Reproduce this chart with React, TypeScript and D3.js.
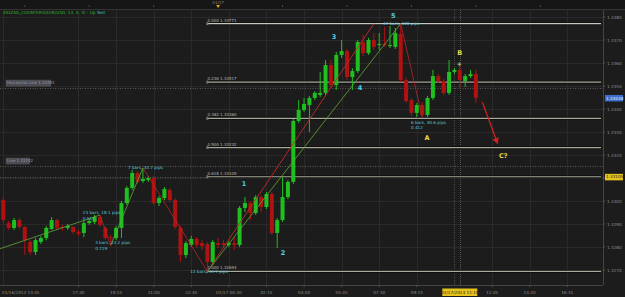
import React from 'react';
import * as d3 from 'd3';

const W = 625;
const H = 297;

// EUR/USD 15-minute bars, 01/16/2013 14:00 onwards
const openP = [1.33004,1.32904,1.32883,1.32917,1.32887,1.32822,1.32778,1.32822,1.32839,1.32878,1.32917,1.32887,1.32883,1.32887,1.32865,1.32861,1.32904,1.32909,1.32930,1.32883,1.32843,1.32839,1.32883,1.32991,1.33057,1.33122,1.33087,1.33091,1.33100,1.32991,1.33013,1.33048,1.33004,1.32883,1.32765,1.32809,1.32835,1.32817,1.32813,1.32735,1.32817,1.32817,1.32809,1.32817,1.32809,1.32970,1.32991,1.32948,1.33017,1.32974,1.33030,1.32861,1.32917,1.33017,1.33083,1.33348,1.33396,1.33417,1.33448,1.33461,1.33470,1.33591,1.33504,1.33635,1.33652,1.33539,1.33565,1.33691,1.33643,1.33700,1.33678,1.33683,1.33674,1.33670,1.33726,1.33526,1.33439,1.33383,1.33417,1.33374,1.33448,1.33543,1.33522,1.33470,1.33561,1.33570,1.33522,1.33543,1.33552];
const highP = [1.33017,1.32913,1.32926,1.32926,1.32891,1.32830,1.32839,1.32848,1.32891,1.32930,1.32922,1.32896,1.32900,1.32891,1.32874,1.32913,1.32922,1.32939,1.32939,1.32891,1.32852,1.32891,1.33000,1.33065,1.33135,1.33130,1.33144,1.33109,1.33109,1.33022,1.33061,1.33057,1.33013,1.32891,1.32826,1.32848,1.32843,1.32830,1.32822,1.32830,1.32839,1.32830,1.32826,1.32843,1.32978,1.33017,1.33000,1.33026,1.33026,1.33039,1.33039,1.32926,1.33104,1.33091,1.33357,1.33439,1.33448,1.33457,1.33478,1.33561,1.33613,1.33613,1.33648,1.33700,1.33661,1.33578,1.33700,1.33722,1.33709,1.33730,1.33730,1.33757,1.33761,1.33752,1.33771,1.33535,1.33448,1.33426,1.33430,1.33457,1.33570,1.33552,1.33530,1.33613,1.33578,1.33591,1.33552,1.33570,1.33570];
const lowP = [1.32904,1.32874,1.32874,1.32878,1.32765,1.32765,1.32765,1.32813,1.32830,1.32874,1.32874,1.32870,1.32874,1.32857,1.32848,1.32843,1.32896,1.32900,1.32887,1.32830,1.32807,1.32830,1.32839,1.32983,1.33048,1.33074,1.33078,1.33083,1.32983,1.32978,1.33004,1.32996,1.32878,1.32735,1.32752,1.32800,1.32800,1.32787,1.32694,1.32722,1.32796,1.32796,1.32800,1.32787,1.32800,1.32952,1.32917,1.32939,1.32952,1.32965,1.32852,1.32796,1.32909,1.33009,1.33074,1.33339,1.33387,1.33300,1.33439,1.33452,1.33461,1.33491,1.33483,1.33622,1.33526,1.33483,1.33557,1.33630,1.33635,1.33657,1.33657,1.33670,1.33665,1.33661,1.33517,1.33426,1.33370,1.33365,1.33365,1.33365,1.33439,1.33513,1.33461,1.33461,1.33552,1.33491,1.33496,1.33535,1.33426];
const closeP = [1.32917,1.32883,1.32917,1.32887,1.32830,1.32778,1.32830,1.32839,1.32883,1.32917,1.32883,1.32883,1.32891,1.32865,1.32857,1.32904,1.32913,1.32930,1.32896,1.32839,1.32839,1.32883,1.32991,1.33057,1.33122,1.33083,1.33096,1.33100,1.32991,1.33013,1.33052,1.33004,1.32887,1.32765,1.32817,1.32835,1.32809,1.32804,1.32735,1.32822,1.32809,1.32809,1.32817,1.32809,1.32970,1.32991,1.32948,1.33017,1.32974,1.33030,1.32861,1.32917,1.33017,1.33083,1.33348,1.33396,1.33422,1.33448,1.33470,1.33470,1.33591,1.33504,1.33635,1.33652,1.33539,1.33565,1.33691,1.33643,1.33700,1.33670,1.33683,1.33678,1.33678,1.33730,1.33526,1.33435,1.33383,1.33417,1.33374,1.33448,1.33543,1.33522,1.33470,1.33561,1.33570,1.33526,1.33543,1.33552,1.33448];

const priceTicks = [1.327, 1.328, 1.329, 1.33, 1.331, 1.332, 1.333, 1.334, 1.335, 1.336, 1.337, 1.338];
const timeTickIdx = [14, 21, 28, 35, 42, 49, 56, 63, 70, 77, 91, 98, 105];
const timeTickLabels = ['17:30', '19:15', '21:00', '22:45', '01/17 00:30', '02:15', '04:00', '05:45', '07:30', '09:15', '12:45', '14:30', '16:15'];
const firstTimeLabel = '01/16/2013 13:45';
const cursorIdx = 85;
const cursorLabel = '01/17/2013 11:15';
const topTickIdx = [4, 16, 28, 40, 52, 64, 76, 88, 100];
const dayMarkIdx = 40;
const dayMarkLabel = '01/17';

const fibRatios = [0, 0.236, 0.382, 0.5, 0.618, 1];
const fibHigh = 1.33771;
const fibLow = 1.32694;
const fibStartIdx = 38;

const zigIdx = [-5, 18, 20, 26, 38, 74, 78];
const zigPrice = [1.32758, 1.32939, 1.32807, 1.33144, 1.32694, 1.33771, 1.33365];

const zigTextIdx = [14.8, 17.1, 23.2, 34.8, 70.7, 75.9];
const zigTextPrice = [1.32943, 1.32813, 1.33139, 1.32687, 1.33765, 1.33335];
const zigTextLine1 = ['23 bars, 18.1 pips', '3 bars, 13.2 pips', '7 bars, 33.7 pips', '13 bars, 44.9 pips', '37 bars, 108 pips', '6 bars, 40.6 pips'];
const zigTextLine2 = ['0.517', '0.729', '', '', '', '0.412'];

const waveLabels = ['1', '2', '3', '4', '5'];
const waveIdx = [44.8, 52.1, 61.6, 66.4, 72.6];
const wavePrice = [1.33074, 1.32774, 1.33713, 1.33491, 1.33804];
const abcLabels = ['A', 'B', 'C?'];
const abcIdx = [78.9, 85.0, 93.1];
const abcPrice = [1.33274, 1.33643, 1.33196];

const channelIdx = [38, 69];
const channelPrice = [1.32694, 1.33771];
const arrowIdx = [89.2, 92];
const arrowPrice = [1.3343, 1.33252];

const hLinePrices = [1.33491, 1.33152, 1.33105];
const hLineNotes = ['Horizontal Line 1.33491', 'Line 1.33152', ''];
const yellowPrice = 1.33105;

const FONT = 'DejaVu Sans, Liberation Sans, sans-serif';

export default function App() {
  const x = d3.scaleLinear().domain([0, 88]).range([3.3, 475.9]);
  const y = d3.scaleLinear().domain([1.327, 1.338]).range([270, 17]);
  const plotR = 603;
  const plotT = 10;
  const plotB = 285;
  const line = d3.line<[number, number]>().x(d => x(d[0])).y(d => y(d[1]));
  const bw = 4;
  const green = '#1fbf1f';
  const red = '#b01212';
  const lastClose = closeP[closeP.length - 1];
  const boxPrices = [lastClose, yellowPrice];
  const tickHidden = (p: number) => boxPrices.some(b => Math.abs(y(b) - y(p)) < 6);

  return (
    <svg width={W} height={H} style={{ position: 'absolute', left: 0, top: 0, background: '#1c1c1c' }} fontFamily={FONT}>
      <defs>
        <clipPath id="plot"><rect x={0} y={plotT} width={plotR} height={plotB - plotT} /></clipPath>
        <marker id="arr" viewBox="0 0 10 10" refX="8" refY="5" markerWidth="5" markerHeight="5" orient="auto">
          <path d="M0,0 L10,5 L0,10 z" fill="#d42020" />
        </marker>
      </defs>
      <rect x={0} y={0} width={W} height={H} fill="#1c1c1c" />
      {/* top strip */}
      <rect x={0} y={0} width={W} height={plotT} fill="#161616" />
      <line x1={0} x2={W} y1={plotT - 0.5} y2={plotT - 0.5} stroke="#333" />
      {topTickIdx.map(t => (
        <line key={'tt' + t} x1={x(t)} x2={x(t)} y1={5} y2={7} stroke="#4a4a4a" />
      ))}
      <text x={x(dayMarkIdx)} y={4} fontSize={4} fill="#8a8a8a" textAnchor="middle">{dayMarkLabel}</text>
      <path d={`M${x(dayMarkIdx) - 2},5 L${x(dayMarkIdx) + 2},5 L${x(dayMarkIdx)},8 z`} fill="#e0a020" />

      {/* grid */}
      <g stroke="#2a2a2a" strokeWidth={1}>
        {priceTicks.map(p => (
          <line key={'gy' + p} x1={0} x2={plotR} y1={Math.round(y(p)) + 0.5} y2={Math.round(y(p)) + 0.5} />
        ))}
        {timeTickIdx.map(t => (
          <line key={'gx' + t} x1={Math.round(x(t)) + 0.5} x2={Math.round(x(t)) + 0.5} y1={plotT} y2={plotB} />
        ))}
        <line x1={3.5} x2={3.5} y1={plotT} y2={plotB} />
        <line x1={Math.round(x(84)) + 0.5} x2={Math.round(x(84)) + 0.5} y1={plotT} y2={plotB} strokeDasharray="1,1" stroke="#4a4a4a" />
      </g>
      <line x1={Math.round(x(cursorIdx)) + 0.5} x2={Math.round(x(cursorIdx)) + 0.5} y1={plotT} y2={plotB} stroke="#555" strokeDasharray="1,1" />

      <g clipPath="url(#plot)">
        {/* dotted horizontal lines */}
        {hLinePrices.map((p, k) => (
          <line key={'hl' + k} x1={0} x2={plotR} y1={Math.round(y(p)) + 0.5} y2={Math.round(y(p)) + 0.5} stroke="#5a5a5a" strokeDasharray="1,1.5" />
        ))}
        {hLineNotes.map((n, k) => n ? (
          <g key={'hn' + k}>
            <rect x={6} y={y(hLinePrices[k]) - 8} width={n.length * 1.95} height={6} fill="#4a4a52" stroke="#5e5e66" strokeWidth={0.5} />
            <text x={7} y={y(hLinePrices[k]) - 3.6} fontSize={4} fill="#9a9aa4">{n}</text>
          </g>
        ) : null)}

        {/* fibonacci levels */}
        {fibRatios.map(r => {
          const p = fibHigh - r * (fibHigh - fibLow);
          const yy = y(p);
          return (
            <g key={'fib' + r}>
              <line x1={x(fibStartIdx)} x2={plotR - 2} y1={yy} y2={yy} stroke="#0e0e0e" strokeWidth={3} />
              <line x1={x(fibStartIdx)} x2={plotR - 2} y1={yy} y2={yy} stroke={r === 0 ? '#c8c8c0' : '#a9a99c'} strokeWidth={1.2} />
              <rect x={x(fibStartIdx) - 1} y={yy - 1.5} width={2} height={3} fill="#777" />
              <text x={x(fibStartIdx)} y={yy - 2} fontSize={4} fill="#b8b8b0">{r.toFixed(3) + ' ' + p.toFixed(5)}</text>
            </g>
          );
        })}

        {/* candles */}
        {openP.map((o, i) => {
          const c = closeP[i];
          const up = c >= o;
          const col = up ? green : red;
          const cx = x(i);
          const top = y(Math.max(o, c));
          const h = Math.max(1, Math.abs(y(o) - y(c)));
          return (
            <g key={'c' + i}>
              <line x1={cx} x2={cx} y1={y(highP[i])} y2={y(lowP[i])} stroke={col} strokeWidth={1} />
              <rect x={cx - bw / 2} y={top} width={bw} height={h} fill={col} />
            </g>
          );
        })}

        {/* channel line */}
        <path d={line(channelIdx.map((t, k) => [t, channelPrice[k]] as [number, number])) || ''} stroke="#c42a2a" strokeWidth={0.9} fill="none" />
        {/* zigzag */}
        {zigIdx.slice(1).map((t, k) => {
          const a: [number, number] = [zigIdx[k], zigPrice[k]];
          const b: [number, number] = [t, zigPrice[k + 1]];
          const rising = b[1] > a[1];
          return (
            <path key={'z' + k} d={line([a, b]) || ''} stroke={rising ? '#62a838' : '#b82626'} strokeWidth={0.8} fill="none" />
          );
        })}
        {/* forecast arrow */}
        <path d={line(arrowIdx.map((t, k) => [t, arrowPrice[k]] as [number, number])) || ''} stroke="#d42020" strokeWidth={1.3} fill="none" markerEnd="url(#arr)" />

        {/* zigzag texts */}
        {zigTextLine1.map((s, k) => (
          <g key={'zt' + k}>
            <text x={x(zigTextIdx[k])} y={y(zigTextPrice[k])} fontSize={4.2} fill="#5fc3d3">{s}</text>
            {zigTextLine2[k] ? (
              <text x={x(zigTextIdx[k])} y={y(zigTextPrice[k]) + 5.5} fontSize={4.2} fill="#5fc3d3">{zigTextLine2[k]}</text>
            ) : null}
          </g>
        ))}

        {/* wave counts */}
        {waveLabels.map((s, k) => (
          <text key={'w' + k} x={x(waveIdx[k])} y={y(wavePrice[k])} fontSize={6.5} fontWeight="bold" fill="#4fd2e4" textAnchor="middle" dominantBaseline="central">{s}</text>
        ))}
        {abcLabels.map((s, k) => (
          <text key={'abc' + k} x={x(abcIdx[k])} y={y(abcPrice[k])} fontSize={6.5} fontWeight="bold" fill="#e8d845" textAnchor="middle" dominantBaseline="central">{s}</text>
        ))}
        <text x={x(84.9)} y={y(1.336)} fontSize={6} fontWeight="bold" fill="#b8d868" textAnchor="middle" dominantBaseline="central">+</text>
      </g>

      {/* title */}
      <text x={3} y={14} fontSize={4.2}>
        <tspan fill="#2fba2f">ZIGZAG_COUNTERS(EUR/USD, 13, 5, 3)</tspan>
        <tspan fill="#8a8a8a"> - </tspan>
        <tspan fill="#2fba2f">Up</tspan>
        <tspan fill="#3fc6d6"> Text</tspan>
      </text>

      {/* right axis */}
      <rect x={plotR} y={plotT} width={W - plotR} height={H - plotT} fill="#1c1c1c" />
      <line x1={plotR + 0.5} x2={plotR + 0.5} y1={plotT} y2={plotB} stroke="#444" />
      {priceTicks.map(p => (
        <g key={'py' + p}>
          <line x1={plotR} x2={plotR + 2} y1={y(p)} y2={y(p)} stroke="#555" />
          {tickHidden(p) ? null : (
            <text x={607} y={y(p) + 1.5} fontSize={4.2} fill="#8c8c8c">{p.toFixed(4)}</text>
          )}
        </g>
      ))}
      <rect x={605} y={y(lastClose) - 3} width={18} height={6.5} fill="#3b6fc8" />
      <text x={606} y={y(lastClose) + 1.6} fontSize={4.2} fill="#e8eefc">{lastClose.toFixed(5)}</text>
      <rect x={605} y={y(yellowPrice) - 3} width={18} height={6.5} fill="#e6c41c" />
      <text x={606} y={y(yellowPrice) + 1.6} fontSize={4.2} fill="#222">{yellowPrice.toFixed(5)}</text>

      {/* bottom axis */}
      <rect x={0} y={plotB} width={W} height={H - plotB} fill="#1c1c1c" />
      <line x1={0} x2={plotR} y1={plotB + 0.5} y2={plotB + 0.5} stroke="#444" />
      {timeTickIdx.map((t, k) => (
        <g key={'tx' + t}>
          <line x1={x(t)} x2={x(t)} y1={plotB} y2={plotB + 2} stroke="#555" />
          <text x={x(t)} y={294} fontSize={4.2} fill="#8c8c8c" textAnchor="middle">{timeTickLabels[k]}</text>
        </g>
      ))}
      <text x={2} y={294} fontSize={4.2} fill="#8c8c8c">{firstTimeLabel}</text>
      <rect x={x(cursorIdx) - 17.5} y={288.5} width={35} height={7.5} fill="#e6c41c" />
      <text x={x(cursorIdx)} y={294} fontSize={4.2} fill="#222" textAnchor="middle">{cursorLabel}</text>
    </svg>
  );
}
